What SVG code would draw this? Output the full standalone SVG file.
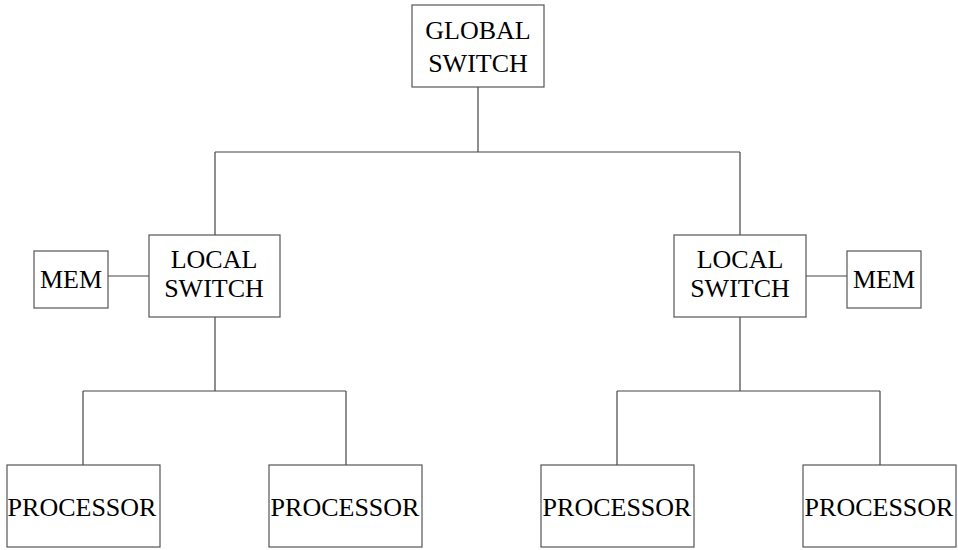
<svg xmlns="http://www.w3.org/2000/svg" width="958" height="550" viewBox="0 0 958 550">
<style>
rect{fill:#fff;stroke:#555;stroke-width:1.2}
line{stroke:#444;stroke-width:1.2}
text{font-family:"Liberation Serif","Times New Roman",serif;font-size:26px;fill:#000;text-anchor:middle}
</style>
<rect x="0" y="0" width="958" height="550" style="stroke:none"/>
<g id="connectors">
<line x1="478" y1="87" x2="478" y2="152"/>
<line x1="215" y1="152" x2="740" y2="152"/>
<line x1="215" y1="152" x2="215" y2="235"/>
<line x1="740" y1="152" x2="740" y2="235"/>
<line x1="108" y1="276" x2="149" y2="276"/>
<line x1="806" y1="276" x2="847" y2="276"/>
<line x1="215" y1="317" x2="215" y2="391"/>
<line x1="83" y1="391" x2="346" y2="391"/>
<line x1="83" y1="391" x2="83" y2="465"/>
<line x1="346" y1="391" x2="346" y2="465"/>
<line x1="740" y1="317" x2="740" y2="391"/>
<line x1="617" y1="391" x2="880" y2="391"/>
<line x1="617" y1="391" x2="617" y2="465"/>
<line x1="880" y1="391" x2="880" y2="465"/>
</g>
<g id="global">
<rect x="412" y="5" width="132" height="82"/>
<text x="478" y="39">GLOBAL</text>
<text x="478" y="72">SWITCH</text>
</g>
<g id="local-left">
<rect x="149" y="235" width="131" height="82"/>
<text x="214" y="268">LOCAL</text>
<text x="214" y="297">SWITCH</text>
</g>
<g id="local-right">
<rect x="674" y="235" width="132" height="82"/>
<text x="740" y="268">LOCAL</text>
<text x="740" y="297">SWITCH</text>
</g>
<g id="mem-left">
<rect x="34" y="251" width="74" height="57"/>
<text x="71" y="288">MEM</text>
</g>
<g id="mem-right">
<rect x="847" y="251" width="74" height="57"/>
<text x="884" y="288">MEM</text>
</g>
<g id="proc1">
<rect x="7" y="465" width="153" height="82"/>
<text x="82" y="516">PROCESSOR</text>
</g>
<g id="proc2">
<rect x="269" y="465" width="153" height="82"/>
<text x="345" y="516">PROCESSOR</text>
</g>
<g id="proc3">
<rect x="541" y="465" width="153" height="82"/>
<text x="617" y="516">PROCESSOR</text>
</g>
<g id="proc4">
<rect x="803" y="465" width="153" height="82"/>
<text x="879" y="516">PROCESSOR</text>
</g>
</svg>
